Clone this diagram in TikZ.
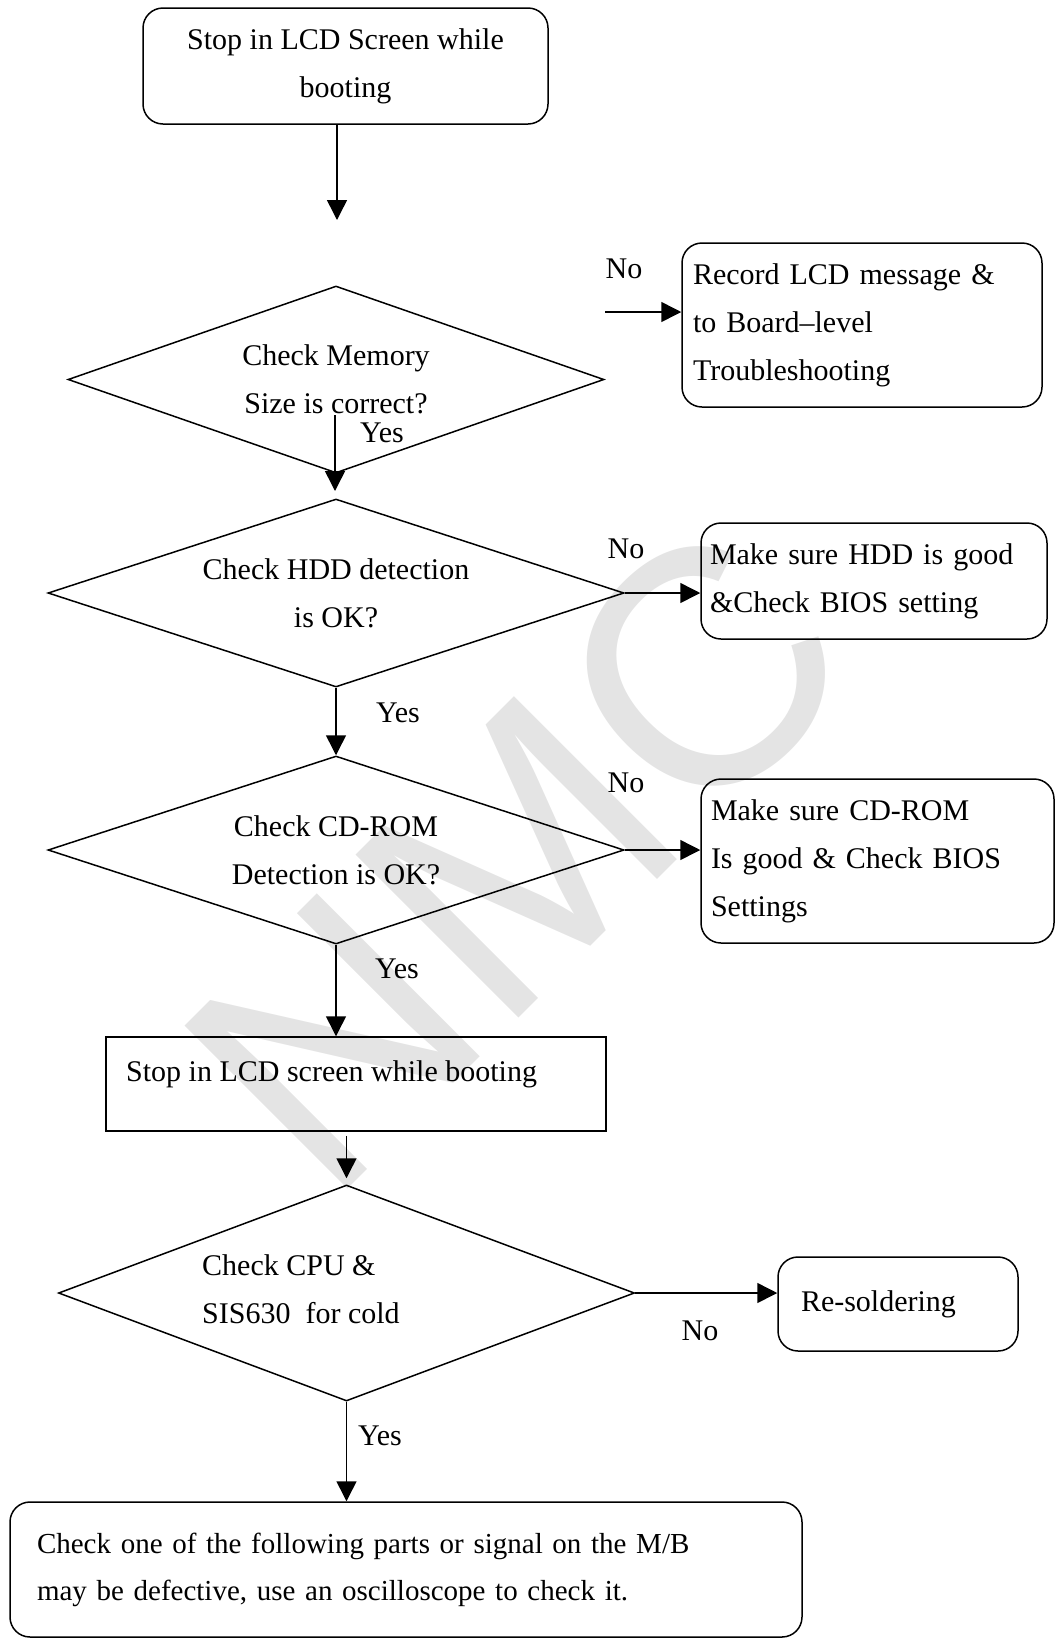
\documentclass[tikz,border=0pt]{standalone}
\usepackage{fontspec}
\setmainfont{Liberation Serif}
\newfontfamily\wmfont{Liberation Sans}
\usetikzlibrary{shapes.geometric,arrows.meta,calc}
\definecolor{wmgray}{gray}{0.895}
\begin{document}
\begin{tikzpicture}[x=1pt,y=-1pt,
  txt/.style={font=\fontsize{30}{48}\selectfont, inner sep=0pt},
  rbox/.style={draw, line width=1.5pt, rounded corners=20pt, txt, align=left},
  sbox/.style={draw, line width=1.5pt, txt},
  dia/.style={draw, line width=1.5pt, diamond, txt, align=center},
  arr/.style={line width=1.5pt, -{Triangle[length=20pt,width=20pt]}},
  lbl/.style={txt}]
\useasboundingbox (0,0) rectangle (1056,1639);
% watermark
\node[rotate=45, text=wmgray, font=\wmfont\fontsize{335}{335}\selectfont, inner sep=0pt] (wm) at (517,857) {NMC};
% boxes
\node[rbox, align=center, minimum width=405pt, minimum height=116pt] (b1) at (345.5,66) {Stop in LCD Screen while\\booting};
\node[rbox, text width=338pt, inner xsep=11pt, minimum width=360pt, minimum height=164pt] (b2) at (862,325) {Record LCD message \&\\to Board--level\\Troubleshooting};
\node[rbox, text width=328pt, inner xsep=9pt, minimum width=346pt, minimum height=116pt] (b3) at (874,581) {Make sure HDD is good\\\&Check BIOS setting};
\node[rbox, text width=333pt, inner xsep=10pt, minimum width=353pt, minimum height=164pt] (b4) at (877.5,861) {Make sure CD-ROM\\Is good \& Check BIOS\\Settings};
\node[sbox, minimum width=500pt, minimum height=94pt] (b5) at (356,1084) {};
\node[txt, anchor=west] (t5) at (126,1074) {Stop in LCD screen while booting};
\node[rbox, text width=194pt, inner xsep=23pt, minimum width=240pt, minimum height=94pt] (b6) at (898,1304) {Re-soldering};
\node[rbox, font=\fontsize{29}{47}\selectfont, text width=738pt, inner xsep=27pt, minimum width=792pt, minimum height=135pt] (b7) at (406,1569.5) {Check one of the following parts or signal on the M/B\\may be defective, use an oscilloscope to check it.};
% diamonds
\node[dia, aspect=2.866, minimum width=536pt, minimum height=187pt] (d1) at (336,379.5) {Check Memory\\Size is correct?};
\node[dia, aspect=3.064, minimum width=576pt, minimum height=188pt] (d2) at (336,593) {Check HDD detection\\is OK?};
\node[dia, aspect=3.064, minimum width=576pt, minimum height=188pt] (d3) at (336,850) {Check CD-ROM\\Detection is OK?};
\node[dia, aspect=2.667, minimum width=576pt, minimum height=216pt] (d4) at (346.5,1293) {};
\node[txt, anchor=west, align=left] (t4) at (202,1289) {Check CPU \&\\SIS630\ \ for cold};
% connectors
\coordinate (a1e) at (337,220);
\draw[arr] (b1.south -| a1e) -- (a1e);
\coordinate (n1s) at (605,312);
\draw[arr] (n1s) -- (n1s -| b2.west);
\coordinate (y1s) at (335,415);
\coordinate (y1e) at (335,491);
\draw[arr] (y1s) -- (y1e);
\draw[arr] (d2.east) -- (d2.east -| b3.west);
\draw[arr] (d2.south) -- (d3.north);
\draw[arr] (d3.east) -- (d3.east -| b4.west);
\draw[arr] (d3.south) -- (d3.south |- b5.north);
\coordinate (a8s) at ($(d4.north |- b5.south)+(0,4)$);
\coordinate (a8e) at ($(d4.north)+(0,-6)$);
\draw[arr] (a8s) -- (a8e);
\draw[arr] (d4.east) -- (d4.east -| b6.west);
\draw[arr] (d4.south) -- (d4.south |- b7.north);
% labels
\node[lbl] (no1) at (624,269) {No};
\node[lbl] (yes1) at (382,433) {Yes};
\node[lbl] (no2) at (626,549) {No};
\node[lbl] (yes2) at (398,713) {Yes};
\node[lbl] (no3) at (626,783) {No};
\node[lbl] (yes3) at (397,969) {Yes};
\node[lbl] (no4) at (700,1331) {No};
\node[lbl] (yes4) at (380,1436) {Yes};
\end{tikzpicture}
\end{document}
